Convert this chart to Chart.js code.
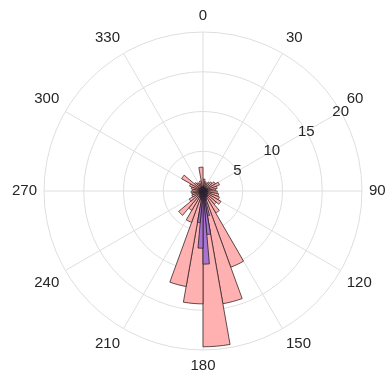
<!DOCTYPE html>
<html>
<head>
<meta charset="utf-8">
<script src="https://cdn.jsdelivr.net/npm/chart.js@4.4.1/dist/chart.umd.min.js"></script>
<style>
  html, body { margin: 0; padding: 0; background: #fff; }
  #wrap { width: 391px; height: 380px; }
</style>
</head>
<body>
<div id="wrap"><canvas id="polarHist"></canvas></div>
<script>
// 10 degree bins, clockwise from the top
const angleLabels = [
  "0", "10", "20", "30", "40", "50", "60", "70", "80", "90", "100", "110",
  "120", "130", "140", "150", "160", "170", "180", "190", "200", "210", "220", "230",
  "240", "250", "260", "270", "280", "290", "300", "310", "320", "330", "340", "350"
];

// pink histogram, one value per 10 degree bin
const pinkCounts = [
  1.5, 1.2, 1.0, 1.3, 1.5, 1.8, 2.2, 1.8, 1.6, 1.8, 2.0, 2.2,
  2.6, 2.2, 3.2, 10.2, 14.4, 19.6, 14.2, 12.2, 4.2, 2.8, 4.0, 2.0,
  1.5, 1.4, 1.5, 1.3, 1.5, 1.8, 3.1, 1.4, 1.2, 1.0, 1.3, 3.0
];

// purple histogram, one value per 5 degree bin
const purpleCounts = [
  0.6, 0.4, 0.5, 0.3, 0.4, 0.5, 0.3, 0.4, 0.5, 0.4, 0.3, 0.5,
  0.4, 0.6, 0.5, 0.4, 0.3, 0.5, 0.4, 0.6, 0.5, 0.4, 0.5, 0.6,
  0.5, 0.6, 0.7, 0.8, 0.7, 0.9, 0.8, 1.0, 1.2, 3.2, 5.5, 9.2,
  7.2, 4.0, 1.2, 1.0, 0.8, 0.9, 0.7, 0.6, 0.5, 0.6, 0.4, 0.5,
  0.4, 0.3, 0.5, 0.4, 0.3, 0.4, 0.5, 0.3, 0.4, 0.5, 0.3, 0.4,
  0.5, 0.3, 0.4, 0.5, 0.4, 0.3, 0.5, 0.4, 0.3, 0.5, 0.4, 0.6
];

const rTicks = [0, 5, 10, 15, 20];
const rTickAngle = 60; // radial tick labels sit on the 60 degree spoke

const textColor = "#262626";
const gridColor = "#dedede";
const font = '"Liberation Sans", Arial, sans-serif';

// draws the radial tick numbers along the 60 degree spoke
const tickLabels = {
  id: "tickLabels",
  afterDraw(chart) {
    const scale = chart.scales.r;
    const ctx = chart.ctx;
    const idx = rTickAngle / (360 / angleLabels.length);
    ctx.save();
    ctx.font = "15px " + font;
    ctx.fillStyle = textColor;
    ctx.textAlign = "center";
    ctx.textBaseline = "middle";
    rTicks.forEach((v) => {
      if (v === 0) return;
      const p = scale.getPointPositionForValue(idx, v);
      ctx.fillText(String(v), p.x, p.y);
    });
    ctx.restore();
  },
};

new Chart(document.getElementById("polarHist"), {
  type: "polarArea",
  data: {
    labels: angleLabels,
    datasets: [
      {
        data: purpleCounts,
        backgroundColor: "#a874d2",
        borderColor: "#2a1f2a",
        borderWidth: 0.8,
      },
      {
        data: pinkCounts,
        backgroundColor: "#ffb0b0",
        borderColor: "#3a2626",
        borderWidth: 0.8,
      },
    ],
  },
  options: {
    responsive: true,
    maintainAspectRatio: false,
    animation: false,
    events: [],
    layout: { padding: { top: 5, bottom: 2, left: 8, right: 0 } },
    plugins: {
      legend: { display: false },
      tooltip: { enabled: false },
    },
    scales: {
      r: {
        min: rTicks[0],
        max: rTicks[rTicks.length - 1],
        startAngle: 0,
        ticks: { display: false, stepSize: 5 },
        grid: { circular: true, color: gridColor, lineWidth: 1 },
        angleLines: {
          display: true,
          lineWidth: 1,
          color: (c) => (c.index % 3 === 0 ? gridColor : "rgba(0,0,0,0)"),
        },
        pointLabels: {
          display: true,
          padding: 7,
          color: textColor,
          font: { family: font, size: 15 },
          callback: (label, i) => (i % 3 === 0 ? label : ""),
        },
      },
    },
  },
  plugins: [tickLabels],
});
</script>
</body>
</html>
